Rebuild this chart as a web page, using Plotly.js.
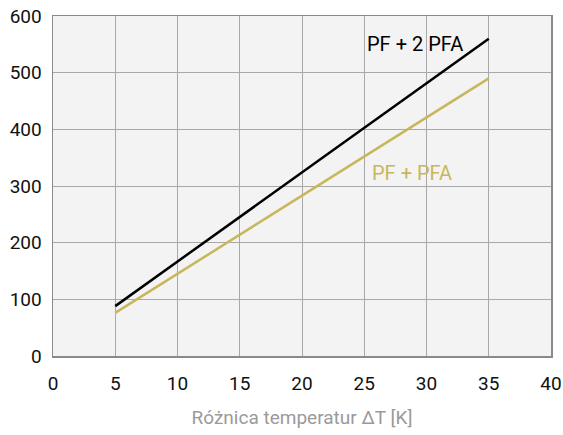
<!DOCTYPE html>
<html>
<head>
<meta charset="utf-8">
<script src="https://cdn.plot.ly/plotly-3.0.1.min.js"></script>
<style>html,body{margin:0;padding:0;background:#fff;}#chart{width:563px;height:435px;}</style>
</head>
<body>
<div id="chart"></div>
<script>
const deltaT = [5, 35];
const pf2pfa = [88, 560];
const pfpfa = [76, 490];
const xTicks = [0, 5, 10, 15, 20, 25, 30, 35, 40];
const yTicks = [0, 100, 200, 300, 400, 500, 600];
const labelPF2PFA = "PF + 2 PFA";
const labelPFPFA = "PF + PFA";
const xTitle = "Różnica temperatur ΔT [K]";

const font = "Roboto, 'Liberation Sans', sans-serif";
const gold = "#c8b75a";

Plotly.newPlot("chart", [
  {x: deltaT, y: pf2pfa, mode: "lines", line: {color: "#000000", width: 2.5}, hoverinfo: "skip"},
  {x: deltaT, y: pfpfa, mode: "lines", line: {color: gold, width: 2.5}, hoverinfo: "skip"}
], {
  width: 563, height: 435,
  margin: {l: 53, r: 12, t: 16, b: 79},
  paper_bgcolor: "#ffffff",
  plot_bgcolor: "#f2f3f2",
  showlegend: false,
  font: {family: font, size: 19, color: "#111"},
  xaxis: {
    range: [0, 40], tickvals: xTicks, ticktext: xTicks.map(String),
    showgrid: true, gridcolor: "#a8a8a8", gridwidth: 1,
    zeroline: false, showline: true, linecolor: "#8a8a8a", linewidth: 1.5, mirror: true,
    ticks: "", ticklabelstandoff: 10,
    title: {text: xTitle, font: {family: font, size: 19, color: "#9a9a9a"}, standoff: 16}
  },
  yaxis: {
    range: [0, 600], tickvals: yTicks, ticktext: yTicks.map(String),
    showgrid: true, gridcolor: "#a8a8a8", gridwidth: 1,
    zeroline: false, showline: true, linecolor: "#8a8a8a", linewidth: 1.5, mirror: true,
    ticks: "", ticklabelstandoff: 6
  },
  annotations: [
    {x: 29.1, y: 550, xref: "x", yref: "y", text: labelPF2PFA, showarrow: false,
     font: {family: font, size: 20, color: "#000"}},
    {x: 28.8, y: 323, xref: "x", yref: "y", text: labelPFPFA, showarrow: false,
     font: {family: font, size: 20, color: gold}}
  ]
}, {displayModeBar: false, staticPlot: true});
</script>
</body>
</html>
